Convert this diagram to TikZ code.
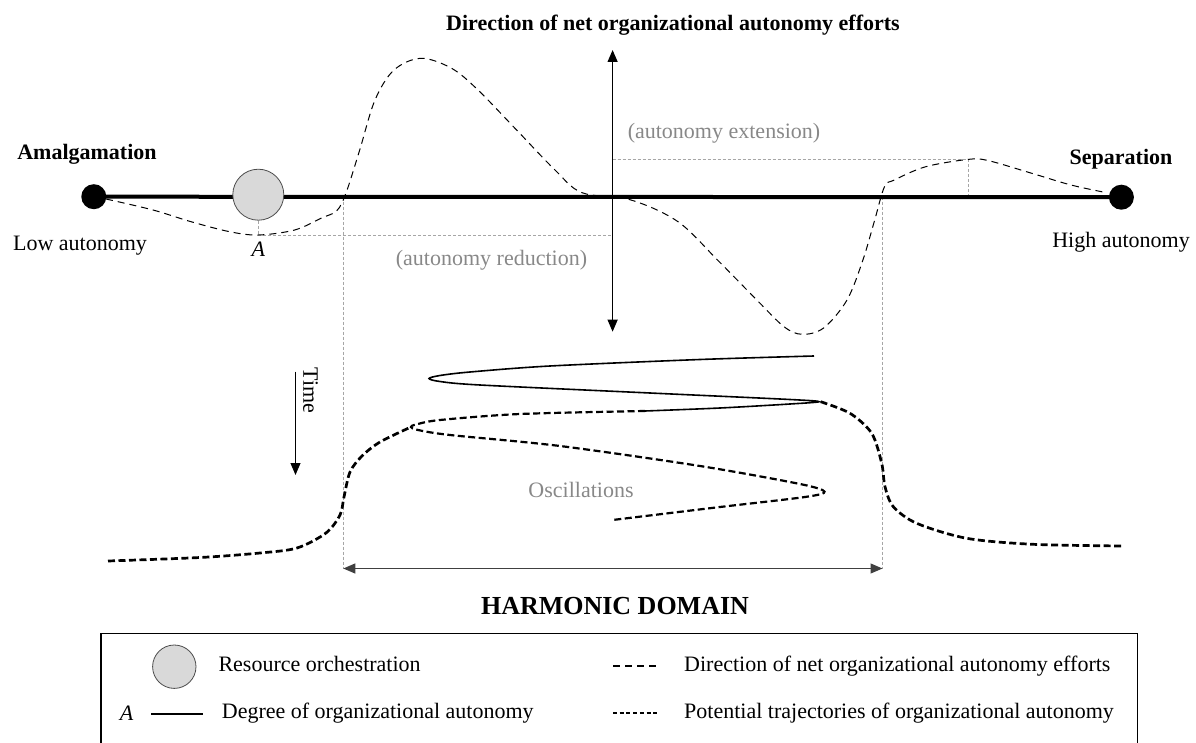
\documentclass[tikz,border=0pt]{standalone}
\usepackage{fontspec}
\setmainfont{Liberation Serif}
\usetikzlibrary{arrows.meta}
\definecolor{lab}{HTML}{888888}
\definecolor{guide}{HTML}{A6A6A6}
\definecolor{ro}{HTML}{D9D9D9}
\definecolor{domarrow}{HTML}{404040}
\begin{document}
\begin{tikzpicture}[x=1pt,y=-1pt,
  font=\fontsize{22}{26}\selectfont,
  enddot/.style={circle,fill=black,inner sep=0pt,minimum size=25pt},
  rocirc/.style={circle,draw=black!70,fill=ro,line width=0.8pt,inner sep=0pt},
  direction/.style={dash pattern=on 7pt off 5pt,line width=1pt},
  traj/.style={dash pattern=on 7pt off 3.5pt,line width=2.2pt},
  trajthick/.style={dash pattern=on 7pt off 3.5pt,line width=2.7pt},
  guideline/.style={draw=guide,dash pattern=on 3pt off 2pt,line width=0.9pt},
  graylab/.style={text=lab},
  dblarrow/.style={{Triangle[length=12pt,width=10pt]}-{Triangle[length=12pt,width=10pt]},line width=1.2pt},
  lbl/.style={inner sep=0pt}
]
\useasboundingbox (0,0) rectangle (1196,743);

% ---- coordinates
\coordinate (vtop) at (612.6,50);
\coordinate (vbot) at (612.6,331.7);
\coordinate (Abase) at (258.3,235.5);
\coordinate (redend) at (612.6,235.5);
\coordinate (extstart) at (612.6,159.3);
\coordinate (extpeak) at (968,159.3);
\coordinate (extfoot) at (968,196.7);
\coordinate (dl) at (343.3,568.5);
\coordinate (dr) at (882.5,568.5);
\coordinate (dltop) at (343.3,196.7);
\coordinate (drtop) at (882.5,196.7);
\coordinate (ttop) at (295.5,371.7);
\coordinate (tbot) at (295.5,475);

% ---- guide lines
\draw[guideline] (Abase) -- (redend);
\draw[guideline] (extstart) -- (extpeak) -- (extfoot);
\draw[guideline] (dltop) -- (dl);
\draw[guideline] (drtop) -- (dr);

% ---- main axis
\node[enddot] (lowdot) at (93.8,196.7) {};
\node[enddot] (highdot) at (1121.4,197.2) {};
\draw[line width=4pt] (lowdot.center) -- (highdot.center);
\node[rocirc,minimum size=51pt] (res) at (258.3,194.7) {};
\draw[guideline] (res.south) -- (Abase);

% ---- vertical arrow
\draw[dblarrow] (vtop) -- (vbot);

% ---- direction of net efforts curve
\draw[direction] plot[smooth,tension=0.55] coordinates {
 (106,199) (153,210) (191,221.7) (229.6,231.7) (258.3,235) (294.7,230)
 (321.5,218) (336.8,210.7) (346,193) (359.7,150) (375,100) (394,70)
 (421,58.3) (451.6,68.3) (478,90) (516.6,130) (555,170) (582,192.7)
 (631,200) (678,221.7) (717.5,260) (756.8,300) (784,326.7) (802,334.3)
 (823.6,328) (847,300) (862.9,260) (874.7,220) (884.5,186.7) (894.3,180)
 (925.8,166.7) (969,159.3) (988.6,160.7) (1031.8,173.3) (1071,185) (1106.5,192.7)};

% ---- oscillations
\draw[line width=1.6pt] plot[smooth,tension=0.5] coordinates {
 (814,356) (700,359.5) (550,366) (470,372) (440,375.5) (429,378.5) (440,381.5)
 (480,385) (650,393) (790,399.5) (819,401.7) (790,404) (720,408) (645,411)};
\draw[traj] plot[smooth,tension=0.5] coordinates {
 (645,411) (520,414) (440,420) (416,424.5) (411,427) (418,430) (450,435)
 (560,446) (700,466) (800,484) (824.5,491.7) (805,497) (720,507) (612.5,520)};
\draw[trajthick] plot[smooth,tension=0.5] coordinates {
 (108,561) (200,557.5) (260,553) (297,548) (326,533) (340,515) (344,497)
 (350,472) (362,456) (380,442) (411,427)};
\draw[trajthick] plot[smooth,tension=0.5] coordinates {
 (820.6,401.7) (850,413.3) (871.7,433.3) (881.7,463.3) (885,486.7)
 (893.3,506.7) (916.7,523.3) (966.7,538.3) (1033,544.3) (1123,546)};

% ---- time arrow
\draw[line width=1pt,-{Triangle[length=12pt,width=10pt]}] (ttop) -- (tbot);
\node[lbl,rotate=-90] (time) at (310.6,390.7) {Time};

% ---- harmonic domain arrow
\draw[dblarrow,draw=domarrow] (dl) -- (dr);

% ---- labels
\node[lbl,font=\fontsize{22}{26}\selectfont\bfseries] (title) at (673,25) {Direction of net organizational autonomy efforts};
\node[lbl,font=\fontsize{22}{26}\selectfont\bfseries] (amal) at (87,154) {Amalgamation};
\node[lbl,font=\fontsize{22}{26}\selectfont\bfseries] (sep) at (1121,159.3) {Separation};
\node[lbl] (low) at (80,245.7) {Low autonomy};
\node[lbl] (high) at (1121,242) {High autonomy};
\node[lbl] (Alab) at (258.3,249) {\itshape A};
\node[lbl,graylab] (ext) at (724,133) {(autonomy extension)};
\node[lbl,graylab] (red) at (491.5,260) {(autonomy reduction)};
\node[lbl,graylab] (osc) at (581,490) {Oscillations};
\node[lbl,font=\fontsize{26}{30}\selectfont\bfseries] (hd) at (615,606) {HARMONIC DOMAIN};

% ---- legend
\draw[line width=1.8pt] (100.7,633.5) rectangle (1137.5,800);
\node[rocirc,minimum size=43.4pt] (legc) at (174.3,666.7) {};
\node[lbl,anchor=west] (legres) at (218.3,664) {Resource orchestration};
\node[lbl] (legA) at (126.7,713) {\itshape A};
\coordinate (lsa) at (151,714);
\coordinate (lsb) at (202.7,714);
\draw[line width=1.5pt] (lsa) -- (lsb);
\node[lbl,anchor=west] (legdeg) at (221.7,713) {Degree of organizational autonomy};
\coordinate (lda) at (613,666);
\coordinate (ldb) at (658,666);
\draw[direction,line width=1.3pt] (lda) -- (ldb);
\node[lbl,anchor=west] (legdir) at (684,666) {Direction of net organizational autonomy efforts};
\coordinate (lta) at (613,713);
\coordinate (ltb) at (658,713);
\draw[line width=1.6pt,dash pattern=on 4pt off 2.7pt] (lta) -- (ltb);
\node[lbl,anchor=west] (legpot) at (684,713) {Potential trajectories of organizational autonomy};
\end{tikzpicture}
\end{document}
